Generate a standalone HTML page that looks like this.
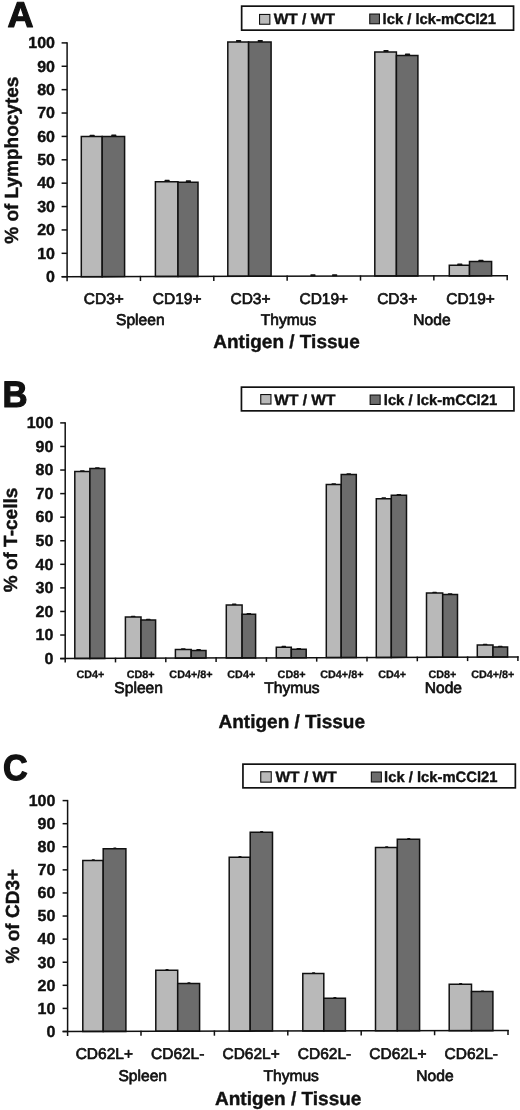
<!DOCTYPE html>
<html><head><meta charset="utf-8"><title>Figure</title>
<style>
html,body{margin:0;padding:0;background:#fff;}
body{width:520px;height:1110px;overflow:hidden;}
svg{display:block;}
text{font-family:"Liberation Sans", Arial, Helvetica, sans-serif;fill:#111;text-rendering:geometricPrecision;}
</style></head><body>
<svg width="520" height="1110" viewBox="0 0 520 1110">
<rect x="0" y="0" width="520" height="1110" fill="#fff"/>
<text transform="translate(7.45,26.55)" font-size="36" font-weight="bold" text-anchor="start" stroke="#111" stroke-width="1.2" stroke-linejoin="round">A</text>
<rect x="241.65" y="6.15" width="271.90" height="24.00" fill="#fff" stroke="#111" stroke-width="1.7"/>
<rect x="259.55" y="14.45" width="10.30" height="9.80" fill="#b9b9b9" stroke="#111" stroke-width="1.1"/>
<rect x="369.75" y="14.05" width="9.70" height="9.70" fill="#6c6c6c" stroke="#111" stroke-width="1.1"/>
<text transform="translate(273.65,24.40) scale(1.035,1.0)" font-size="15" font-weight="bold" text-anchor="start" stroke="#111" stroke-width="0.4" stroke-linejoin="round">WT / WT</text>
<text transform="translate(382.60,24.40) scale(0.985,1.0)" font-size="15" font-weight="bold" text-anchor="start" stroke="#111" stroke-width="0.4" stroke-linejoin="round">lck / lck-mCCl21</text>
<polygon points="81.30,136.60 102.20,136.60 102.20,276.63 81.30,276.67" fill="#b9b9b9" stroke="#111" stroke-width="1.5" stroke-linejoin="miter"/>
<polygon points="102.20,136.50 124.60,136.50 124.60,276.58 102.20,276.63" fill="#6c6c6c" stroke="#111" stroke-width="1.5" stroke-linejoin="miter"/>
<rect x="89.55" y="134.70" width="5.2" height="1.9" rx="0.6" fill="#111"/>
<rect x="111.20" y="134.60" width="5.2" height="1.9" rx="0.6" fill="#111"/>
<polygon points="155.40,181.70 178.00,181.70 178.00,276.47 155.40,276.52" fill="#b9b9b9" stroke="#111" stroke-width="1.5" stroke-linejoin="miter"/>
<polygon points="178.00,182.20 198.00,182.20 198.00,276.43 178.00,276.47" fill="#6c6c6c" stroke="#111" stroke-width="1.5" stroke-linejoin="miter"/>
<rect x="164.50" y="179.80" width="5.2" height="1.9" rx="0.6" fill="#111"/>
<rect x="185.80" y="180.30" width="5.2" height="1.9" rx="0.6" fill="#111"/>
<polygon points="227.80,41.90 248.60,41.90 248.60,276.33 227.80,276.37" fill="#b9b9b9" stroke="#111" stroke-width="1.5" stroke-linejoin="miter"/>
<polygon points="248.60,41.90 271.10,41.90 271.10,276.28 248.60,276.33" fill="#6c6c6c" stroke="#111" stroke-width="1.5" stroke-linejoin="miter"/>
<rect x="236.00" y="40.00" width="5.2" height="1.9" rx="0.6" fill="#111"/>
<rect x="257.65" y="40.00" width="5.2" height="1.9" rx="0.6" fill="#111"/>
<rect x="310.35" y="274.30" width="5.2" height="1.9" rx="0.6" fill="#111"/>
<rect x="332.05" y="274.25" width="5.2" height="1.9" rx="0.6" fill="#111"/>
<polygon points="374.80,51.90 396.40,51.90 396.40,276.03 374.80,276.07" fill="#b9b9b9" stroke="#111" stroke-width="1.5" stroke-linejoin="miter"/>
<polygon points="396.40,55.40 417.90,55.40 417.90,275.98 396.40,276.03" fill="#6c6c6c" stroke="#111" stroke-width="1.5" stroke-linejoin="miter"/>
<rect x="383.40" y="50.00" width="5.2" height="1.9" rx="0.6" fill="#111"/>
<rect x="404.95" y="53.50" width="5.2" height="1.9" rx="0.6" fill="#111"/>
<polygon points="449.30,265.30 469.50,265.30 469.50,275.88 449.30,275.92" fill="#b9b9b9" stroke="#111" stroke-width="1.5" stroke-linejoin="miter"/>
<polygon points="469.50,261.60 491.60,261.60 491.60,275.83 469.50,275.88" fill="#6c6c6c" stroke="#111" stroke-width="1.5" stroke-linejoin="miter"/>
<rect x="457.20" y="263.40" width="5.2" height="1.9" rx="0.6" fill="#111"/>
<rect x="478.35" y="259.70" width="5.2" height="1.9" rx="0.6" fill="#111"/>
<line x1="67.10" y1="42.20" x2="67.10" y2="281.20" stroke="#111" stroke-width="1.5"/>
<line x1="61.60" y1="276.70" x2="507.90" y2="275.80" stroke="#111" stroke-width="1.5"/>
<line x1="61.60" y1="276.70" x2="67.10" y2="276.70" stroke="#111" stroke-width="1.5"/>
<text transform="translate(55.00,282.00)" font-size="16" font-weight="bold" text-anchor="end" stroke="#111" stroke-width="0.4" stroke-linejoin="round">0</text>
<line x1="61.60" y1="253.32" x2="67.10" y2="253.32" stroke="#111" stroke-width="1.5"/>
<text transform="translate(55.00,258.62)" font-size="16" font-weight="bold" text-anchor="end" stroke="#111" stroke-width="0.4" stroke-linejoin="round">10</text>
<line x1="61.60" y1="229.94" x2="67.10" y2="229.94" stroke="#111" stroke-width="1.5"/>
<text transform="translate(55.00,235.24)" font-size="16" font-weight="bold" text-anchor="end" stroke="#111" stroke-width="0.4" stroke-linejoin="round">20</text>
<line x1="61.60" y1="206.56" x2="67.10" y2="206.56" stroke="#111" stroke-width="1.5"/>
<text transform="translate(55.00,211.86)" font-size="16" font-weight="bold" text-anchor="end" stroke="#111" stroke-width="0.4" stroke-linejoin="round">30</text>
<line x1="61.60" y1="183.18" x2="67.10" y2="183.18" stroke="#111" stroke-width="1.5"/>
<text transform="translate(55.00,188.48)" font-size="16" font-weight="bold" text-anchor="end" stroke="#111" stroke-width="0.4" stroke-linejoin="round">40</text>
<line x1="61.60" y1="159.80" x2="67.10" y2="159.80" stroke="#111" stroke-width="1.5"/>
<text transform="translate(55.00,165.10)" font-size="16" font-weight="bold" text-anchor="end" stroke="#111" stroke-width="0.4" stroke-linejoin="round">50</text>
<line x1="61.60" y1="136.42" x2="67.10" y2="136.42" stroke="#111" stroke-width="1.5"/>
<text transform="translate(55.00,141.72)" font-size="16" font-weight="bold" text-anchor="end" stroke="#111" stroke-width="0.4" stroke-linejoin="round">60</text>
<line x1="61.60" y1="113.04" x2="67.10" y2="113.04" stroke="#111" stroke-width="1.5"/>
<text transform="translate(55.00,118.34)" font-size="16" font-weight="bold" text-anchor="end" stroke="#111" stroke-width="0.4" stroke-linejoin="round">70</text>
<line x1="61.60" y1="89.66" x2="67.10" y2="89.66" stroke="#111" stroke-width="1.5"/>
<text transform="translate(55.00,94.96)" font-size="16" font-weight="bold" text-anchor="end" stroke="#111" stroke-width="0.4" stroke-linejoin="round">80</text>
<line x1="61.60" y1="66.28" x2="67.10" y2="66.28" stroke="#111" stroke-width="1.5"/>
<text transform="translate(55.00,71.58)" font-size="16" font-weight="bold" text-anchor="end" stroke="#111" stroke-width="0.4" stroke-linejoin="round">90</text>
<line x1="61.60" y1="42.90" x2="67.10" y2="42.90" stroke="#111" stroke-width="1.5"/>
<text transform="translate(55.00,48.20)" font-size="16" font-weight="bold" text-anchor="end" stroke="#111" stroke-width="0.4" stroke-linejoin="round">100</text>
<line x1="140.45" y1="275.85" x2="140.45" y2="281.05" stroke="#111" stroke-width="1.5"/>
<line x1="213.80" y1="275.70" x2="213.80" y2="280.90" stroke="#111" stroke-width="1.5"/>
<line x1="287.15" y1="275.55" x2="287.15" y2="280.75" stroke="#111" stroke-width="1.5"/>
<line x1="360.50" y1="275.40" x2="360.50" y2="280.60" stroke="#111" stroke-width="1.5"/>
<line x1="433.85" y1="275.25" x2="433.85" y2="280.45" stroke="#111" stroke-width="1.5"/>
<line x1="507.20" y1="275.10" x2="507.20" y2="280.30" stroke="#111" stroke-width="1.5"/>
<text transform="translate(103.78,303.90)" font-size="15.5" font-weight="normal" text-anchor="middle" stroke="#111" stroke-width="0.7" stroke-linejoin="round">CD3+</text>
<text transform="translate(177.12,303.90)" font-size="15.5" font-weight="normal" text-anchor="middle" stroke="#111" stroke-width="0.7" stroke-linejoin="round">CD19+</text>
<text transform="translate(250.48,303.90)" font-size="15.5" font-weight="normal" text-anchor="middle" stroke="#111" stroke-width="0.7" stroke-linejoin="round">CD3+</text>
<text transform="translate(323.83,303.90)" font-size="15.5" font-weight="normal" text-anchor="middle" stroke="#111" stroke-width="0.7" stroke-linejoin="round">CD19+</text>
<text transform="translate(397.18,303.90)" font-size="15.5" font-weight="normal" text-anchor="middle" stroke="#111" stroke-width="0.7" stroke-linejoin="round">CD3+</text>
<text transform="translate(470.53,303.90)" font-size="15.5" font-weight="normal" text-anchor="middle" stroke="#111" stroke-width="0.7" stroke-linejoin="round">CD19+</text>
<text transform="translate(140.30,324.80)" font-size="15.6" font-weight="normal" text-anchor="middle" stroke="#111" stroke-width="0.7" stroke-linejoin="round">Spleen</text>
<text transform="translate(288.55,324.80)" font-size="15.6" font-weight="normal" text-anchor="middle" stroke="#111" stroke-width="0.7" stroke-linejoin="round">Thymus</text>
<text transform="translate(431.95,324.80)" font-size="15.6" font-weight="normal" text-anchor="middle" stroke="#111" stroke-width="0.7" stroke-linejoin="round">Node</text>
<text transform="translate(286.50,348.00)" font-size="19" font-weight="bold" text-anchor="middle" stroke="#111" stroke-width="0.4" stroke-linejoin="round">Antigen / Tissue</text>
<text transform="translate(18.20,160.20) rotate(-90)" font-size="19" font-weight="bold" text-anchor="middle" stroke="#111" stroke-width="0.4" stroke-linejoin="round">% of Lymphocytes</text>
<text transform="translate(2.60,406.70) scale(0.965,1.025)" font-size="36" font-weight="bold" text-anchor="start" stroke="#111" stroke-width="1.2" stroke-linejoin="round">B</text>
<rect x="241.45" y="387.15" width="272.50" height="23.70" fill="#fff" stroke="#111" stroke-width="1.7"/>
<rect x="260.75" y="394.55" width="10.20" height="9.50" fill="#b9b9b9" stroke="#111" stroke-width="1.1"/>
<rect x="370.15" y="395.05" width="10.00" height="9.40" fill="#6c6c6c" stroke="#111" stroke-width="1.1"/>
<text transform="translate(274.25,404.80) scale(1.035,1.0)" font-size="15" font-weight="bold" text-anchor="start" stroke="#111" stroke-width="0.4" stroke-linejoin="round">WT / WT</text>
<text transform="translate(383.80,404.80) scale(0.985,1.0)" font-size="15" font-weight="bold" text-anchor="start" stroke="#111" stroke-width="0.4" stroke-linejoin="round">lck / lck-mCCl21</text>
<polygon points="74.80,471.50 89.90,471.50 89.90,658.51 74.80,658.56" fill="#b9b9b9" stroke="#111" stroke-width="1.5" stroke-linejoin="miter"/>
<polygon points="89.90,468.50 104.80,468.50 104.80,658.45 89.90,658.51" fill="#6c6c6c" stroke="#111" stroke-width="1.5" stroke-linejoin="miter"/>
<rect x="80.05" y="470.15" width="4.6" height="1.35" rx="0.6" fill="#111"/>
<rect x="95.05" y="467.15" width="4.6" height="1.35" rx="0.6" fill="#111"/>
<polygon points="125.40,617.00 141.00,617.00 141.00,658.32 125.40,658.37" fill="#b9b9b9" stroke="#111" stroke-width="1.5" stroke-linejoin="miter"/>
<polygon points="141.00,620.10 155.60,620.10 155.60,658.26 141.00,658.32" fill="#6c6c6c" stroke="#111" stroke-width="1.5" stroke-linejoin="miter"/>
<rect x="130.90" y="615.65" width="4.6" height="1.35" rx="0.6" fill="#111"/>
<rect x="146.00" y="618.75" width="4.6" height="1.35" rx="0.6" fill="#111"/>
<polygon points="175.40,649.50 191.20,649.50 191.20,658.13 175.40,658.19" fill="#b9b9b9" stroke="#111" stroke-width="1.5" stroke-linejoin="miter"/>
<polygon points="191.20,650.40 206.00,650.40 206.00,658.07 191.20,658.13" fill="#6c6c6c" stroke="#111" stroke-width="1.5" stroke-linejoin="miter"/>
<rect x="181.00" y="648.15" width="4.6" height="1.35" rx="0.6" fill="#111"/>
<rect x="196.30" y="649.05" width="4.6" height="1.35" rx="0.6" fill="#111"/>
<polygon points="226.30,604.90 242.10,604.90 242.10,657.94 226.30,658.00" fill="#b9b9b9" stroke="#111" stroke-width="1.5" stroke-linejoin="miter"/>
<polygon points="242.10,614.30 255.60,614.30 255.60,657.89 242.10,657.94" fill="#6c6c6c" stroke="#111" stroke-width="1.5" stroke-linejoin="miter"/>
<rect x="231.90" y="603.55" width="4.6" height="1.35" rx="0.6" fill="#111"/>
<rect x="246.55" y="612.95" width="4.6" height="1.35" rx="0.6" fill="#111"/>
<polygon points="276.30,647.20 291.30,647.20 291.30,657.75 276.30,657.81" fill="#b9b9b9" stroke="#111" stroke-width="1.5" stroke-linejoin="miter"/>
<polygon points="291.30,649.30 306.20,649.30 306.20,657.69 291.30,657.75" fill="#6c6c6c" stroke="#111" stroke-width="1.5" stroke-linejoin="miter"/>
<rect x="281.50" y="645.85" width="4.6" height="1.35" rx="0.6" fill="#111"/>
<rect x="296.45" y="647.95" width="4.6" height="1.35" rx="0.6" fill="#111"/>
<polygon points="326.30,484.50 341.20,484.50 341.20,657.56 326.30,657.62" fill="#b9b9b9" stroke="#111" stroke-width="1.5" stroke-linejoin="miter"/>
<polygon points="341.20,474.50 356.30,474.50 356.30,657.51 341.20,657.56" fill="#6c6c6c" stroke="#111" stroke-width="1.5" stroke-linejoin="miter"/>
<rect x="331.45" y="483.15" width="4.6" height="1.35" rx="0.6" fill="#111"/>
<rect x="346.45" y="473.15" width="4.6" height="1.35" rx="0.6" fill="#111"/>
<polygon points="376.30,498.70 391.30,498.70 391.30,657.38 376.30,657.43" fill="#b9b9b9" stroke="#111" stroke-width="1.5" stroke-linejoin="miter"/>
<polygon points="391.30,495.30 406.50,495.30 406.50,657.32 391.30,657.38" fill="#6c6c6c" stroke="#111" stroke-width="1.5" stroke-linejoin="miter"/>
<rect x="381.50" y="497.35" width="4.6" height="1.35" rx="0.6" fill="#111"/>
<rect x="396.60" y="493.95" width="4.6" height="1.35" rx="0.6" fill="#111"/>
<polygon points="426.50,593.00 442.70,593.00 442.70,657.18 426.50,657.24" fill="#b9b9b9" stroke="#111" stroke-width="1.5" stroke-linejoin="miter"/>
<polygon points="442.70,594.50 457.50,594.50 457.50,657.13 442.70,657.18" fill="#6c6c6c" stroke="#111" stroke-width="1.5" stroke-linejoin="miter"/>
<rect x="432.30" y="591.65" width="4.6" height="1.35" rx="0.6" fill="#111"/>
<rect x="447.80" y="593.15" width="4.6" height="1.35" rx="0.6" fill="#111"/>
<polygon points="477.30,645.10 493.00,645.10 493.00,656.99 477.30,657.05" fill="#b9b9b9" stroke="#111" stroke-width="1.5" stroke-linejoin="miter"/>
<polygon points="493.00,647.00 507.60,647.00 507.60,656.94 493.00,656.99" fill="#6c6c6c" stroke="#111" stroke-width="1.5" stroke-linejoin="miter"/>
<rect x="482.85" y="643.75" width="4.6" height="1.35" rx="0.6" fill="#111"/>
<rect x="498.00" y="645.65" width="4.6" height="1.35" rx="0.6" fill="#111"/>
<line x1="65.20" y1="422.20" x2="65.20" y2="662.60" stroke="#111" stroke-width="1.5"/>
<line x1="60.20" y1="658.60" x2="518.60" y2="656.90" stroke="#111" stroke-width="1.5"/>
<line x1="60.20" y1="658.60" x2="65.20" y2="658.60" stroke="#111" stroke-width="1.5"/>
<text transform="translate(53.40,663.90)" font-size="16" font-weight="bold" text-anchor="end" stroke="#111" stroke-width="0.4" stroke-linejoin="round">0</text>
<line x1="60.20" y1="635.03" x2="65.20" y2="635.03" stroke="#111" stroke-width="1.5"/>
<text transform="translate(53.40,640.33)" font-size="16" font-weight="bold" text-anchor="end" stroke="#111" stroke-width="0.4" stroke-linejoin="round">10</text>
<line x1="60.20" y1="611.46" x2="65.20" y2="611.46" stroke="#111" stroke-width="1.5"/>
<text transform="translate(53.40,616.76)" font-size="16" font-weight="bold" text-anchor="end" stroke="#111" stroke-width="0.4" stroke-linejoin="round">20</text>
<line x1="60.20" y1="587.89" x2="65.20" y2="587.89" stroke="#111" stroke-width="1.5"/>
<text transform="translate(53.40,593.19)" font-size="16" font-weight="bold" text-anchor="end" stroke="#111" stroke-width="0.4" stroke-linejoin="round">30</text>
<line x1="60.20" y1="564.32" x2="65.20" y2="564.32" stroke="#111" stroke-width="1.5"/>
<text transform="translate(53.40,569.62)" font-size="16" font-weight="bold" text-anchor="end" stroke="#111" stroke-width="0.4" stroke-linejoin="round">40</text>
<line x1="60.20" y1="540.75" x2="65.20" y2="540.75" stroke="#111" stroke-width="1.5"/>
<text transform="translate(53.40,546.05)" font-size="16" font-weight="bold" text-anchor="end" stroke="#111" stroke-width="0.4" stroke-linejoin="round">50</text>
<line x1="60.20" y1="517.18" x2="65.20" y2="517.18" stroke="#111" stroke-width="1.5"/>
<text transform="translate(53.40,522.48)" font-size="16" font-weight="bold" text-anchor="end" stroke="#111" stroke-width="0.4" stroke-linejoin="round">60</text>
<line x1="60.20" y1="493.61" x2="65.20" y2="493.61" stroke="#111" stroke-width="1.5"/>
<text transform="translate(53.40,498.91)" font-size="16" font-weight="bold" text-anchor="end" stroke="#111" stroke-width="0.4" stroke-linejoin="round">70</text>
<line x1="60.20" y1="470.04" x2="65.20" y2="470.04" stroke="#111" stroke-width="1.5"/>
<text transform="translate(53.40,475.34)" font-size="16" font-weight="bold" text-anchor="end" stroke="#111" stroke-width="0.4" stroke-linejoin="round">80</text>
<line x1="60.20" y1="446.47" x2="65.20" y2="446.47" stroke="#111" stroke-width="1.5"/>
<text transform="translate(53.40,451.77)" font-size="16" font-weight="bold" text-anchor="end" stroke="#111" stroke-width="0.4" stroke-linejoin="round">90</text>
<line x1="60.20" y1="422.90" x2="65.20" y2="422.90" stroke="#111" stroke-width="1.5"/>
<text transform="translate(53.40,428.20)" font-size="16" font-weight="bold" text-anchor="end" stroke="#111" stroke-width="0.4" stroke-linejoin="round">100</text>
<line x1="115.50" y1="657.71" x2="115.50" y2="662.41" stroke="#111" stroke-width="1.5"/>
<line x1="165.80" y1="657.52" x2="165.80" y2="662.22" stroke="#111" stroke-width="1.5"/>
<line x1="216.10" y1="657.33" x2="216.10" y2="662.03" stroke="#111" stroke-width="1.5"/>
<line x1="266.40" y1="657.14" x2="266.40" y2="661.84" stroke="#111" stroke-width="1.5"/>
<line x1="316.70" y1="656.96" x2="316.70" y2="661.66" stroke="#111" stroke-width="1.5"/>
<line x1="367.00" y1="656.77" x2="367.00" y2="661.47" stroke="#111" stroke-width="1.5"/>
<line x1="417.30" y1="656.58" x2="417.30" y2="661.28" stroke="#111" stroke-width="1.5"/>
<line x1="467.60" y1="656.39" x2="467.60" y2="661.09" stroke="#111" stroke-width="1.5"/>
<line x1="517.90" y1="656.20" x2="517.90" y2="660.90" stroke="#111" stroke-width="1.5"/>
<text transform="translate(90.35,677.70)" font-size="10.8" font-weight="bold" text-anchor="middle" stroke="#111" stroke-width="0.3" stroke-linejoin="round">CD4+</text>
<text transform="translate(140.65,677.70)" font-size="10.8" font-weight="bold" text-anchor="middle" stroke="#111" stroke-width="0.3" stroke-linejoin="round">CD8+</text>
<text transform="translate(190.95,677.70)" font-size="10.8" font-weight="bold" text-anchor="middle" stroke="#111" stroke-width="0.3" stroke-linejoin="round">CD4+/8+</text>
<text transform="translate(241.25,677.70)" font-size="10.8" font-weight="bold" text-anchor="middle" stroke="#111" stroke-width="0.3" stroke-linejoin="round">CD4+</text>
<text transform="translate(291.55,677.70)" font-size="10.8" font-weight="bold" text-anchor="middle" stroke="#111" stroke-width="0.3" stroke-linejoin="round">CD8+</text>
<text transform="translate(341.85,677.70)" font-size="10.8" font-weight="bold" text-anchor="middle" stroke="#111" stroke-width="0.3" stroke-linejoin="round">CD4+/8+</text>
<text transform="translate(392.15,677.70)" font-size="10.8" font-weight="bold" text-anchor="middle" stroke="#111" stroke-width="0.3" stroke-linejoin="round">CD4+</text>
<text transform="translate(442.45,677.70)" font-size="10.8" font-weight="bold" text-anchor="middle" stroke="#111" stroke-width="0.3" stroke-linejoin="round">CD8+</text>
<text transform="translate(492.75,677.70)" font-size="10.8" font-weight="bold" text-anchor="middle" stroke="#111" stroke-width="0.3" stroke-linejoin="round">CD4+/8+</text>
<text transform="translate(138.65,693.20)" font-size="15.6" font-weight="normal" text-anchor="middle" stroke="#111" stroke-width="0.7" stroke-linejoin="round">Spleen</text>
<text transform="translate(291.95,693.20)" font-size="15.6" font-weight="normal" text-anchor="middle" stroke="#111" stroke-width="0.7" stroke-linejoin="round">Thymus</text>
<text transform="translate(443.35,693.20)" font-size="15.6" font-weight="normal" text-anchor="middle" stroke="#111" stroke-width="0.7" stroke-linejoin="round">Node</text>
<text transform="translate(291.75,727.90)" font-size="19" font-weight="bold" text-anchor="middle" stroke="#111" stroke-width="0.4" stroke-linejoin="round">Antigen / Tissue</text>
<text transform="translate(16.50,540.00) rotate(-90)" font-size="19" font-weight="bold" text-anchor="middle" stroke="#111" stroke-width="0.4" stroke-linejoin="round">% of T-cells</text>
<text transform="translate(3.10,779.90) scale(0.95,1.0)" font-size="36" font-weight="bold" text-anchor="start" stroke="#111" stroke-width="1.2" stroke-linejoin="round">C</text>
<rect x="242.95" y="764.15" width="272.40" height="23.70" fill="#fff" stroke="#111" stroke-width="1.7"/>
<rect x="260.75" y="771.75" width="10.50" height="10.40" fill="#b9b9b9" stroke="#111" stroke-width="1.1"/>
<rect x="371.35" y="772.05" width="10.00" height="9.90" fill="#6c6c6c" stroke="#111" stroke-width="1.1"/>
<text transform="translate(275.45,782.10) scale(1.035,1.0)" font-size="15" font-weight="bold" text-anchor="start" stroke="#111" stroke-width="0.4" stroke-linejoin="round">WT / WT</text>
<text transform="translate(384.10,782.10) scale(0.985,1.0)" font-size="15" font-weight="bold" text-anchor="start" stroke="#111" stroke-width="0.4" stroke-linejoin="round">lck / lck-mCCl21</text>
<polygon points="82.80,860.50 103.20,860.50 103.20,1031.43 82.80,1031.47" fill="#b9b9b9" stroke="#111" stroke-width="1.5" stroke-linejoin="miter"/>
<polygon points="103.20,848.80 125.90,848.80 125.90,1031.38 103.20,1031.43" fill="#6c6c6c" stroke="#111" stroke-width="1.5" stroke-linejoin="miter"/>
<rect x="91.70" y="859.30" width="3.2" height="1.2" rx="0.6" fill="#111"/>
<rect x="113.25" y="847.60" width="3.2" height="1.2" rx="0.6" fill="#111"/>
<polygon points="155.80,970.30 177.70,970.30 177.70,1031.28 155.80,1031.32" fill="#b9b9b9" stroke="#111" stroke-width="1.5" stroke-linejoin="miter"/>
<polygon points="177.70,983.50 199.60,983.50 199.60,1031.23 177.70,1031.28" fill="#6c6c6c" stroke="#111" stroke-width="1.5" stroke-linejoin="miter"/>
<rect x="165.45" y="969.10" width="3.2" height="1.2" rx="0.6" fill="#111"/>
<rect x="187.35" y="982.30" width="3.2" height="1.2" rx="0.6" fill="#111"/>
<polygon points="229.20,857.30 250.20,857.30 250.20,1031.13 229.20,1031.17" fill="#b9b9b9" stroke="#111" stroke-width="1.5" stroke-linejoin="miter"/>
<polygon points="250.20,832.20 272.50,832.20 272.50,1031.08 250.20,1031.13" fill="#6c6c6c" stroke="#111" stroke-width="1.5" stroke-linejoin="miter"/>
<rect x="238.40" y="856.10" width="3.2" height="1.2" rx="0.6" fill="#111"/>
<rect x="260.05" y="831.00" width="3.2" height="1.2" rx="0.6" fill="#111"/>
<polygon points="302.80,973.40 323.80,973.40 323.80,1030.98 302.80,1031.02" fill="#b9b9b9" stroke="#111" stroke-width="1.5" stroke-linejoin="miter"/>
<polygon points="323.80,998.20 345.40,998.20 345.40,1030.93 323.80,1030.98" fill="#6c6c6c" stroke="#111" stroke-width="1.5" stroke-linejoin="miter"/>
<rect x="312.00" y="972.20" width="3.2" height="1.2" rx="0.6" fill="#111"/>
<rect x="333.30" y="997.00" width="3.2" height="1.2" rx="0.6" fill="#111"/>
<polygon points="375.50,847.40 397.30,847.40 397.30,1030.83 375.50,1030.87" fill="#b9b9b9" stroke="#111" stroke-width="1.5" stroke-linejoin="miter"/>
<polygon points="397.30,839.20 419.60,839.20 419.60,1030.78 397.30,1030.83" fill="#6c6c6c" stroke="#111" stroke-width="1.5" stroke-linejoin="miter"/>
<rect x="385.10" y="846.20" width="3.2" height="1.2" rx="0.6" fill="#111"/>
<rect x="407.15" y="838.00" width="3.2" height="1.2" rx="0.6" fill="#111"/>
<polygon points="449.20,984.30 471.50,984.30 471.50,1030.67 449.20,1030.72" fill="#b9b9b9" stroke="#111" stroke-width="1.5" stroke-linejoin="miter"/>
<polygon points="471.50,991.60 492.90,991.60 492.90,1030.63 471.50,1030.67" fill="#6c6c6c" stroke="#111" stroke-width="1.5" stroke-linejoin="miter"/>
<rect x="459.05" y="983.10" width="3.2" height="1.2" rx="0.6" fill="#111"/>
<rect x="480.90" y="990.40" width="3.2" height="1.2" rx="0.6" fill="#111"/>
<line x1="67.60" y1="799.90" x2="67.60" y2="1036.00" stroke="#111" stroke-width="1.5"/>
<line x1="62.60" y1="1031.50" x2="508.70" y2="1030.60" stroke="#111" stroke-width="1.5"/>
<line x1="62.60" y1="1031.50" x2="67.60" y2="1031.50" stroke="#111" stroke-width="1.5"/>
<text transform="translate(55.40,1036.80)" font-size="16" font-weight="bold" text-anchor="end" stroke="#111" stroke-width="0.4" stroke-linejoin="round">0</text>
<line x1="62.60" y1="1008.41" x2="67.60" y2="1008.41" stroke="#111" stroke-width="1.5"/>
<text transform="translate(55.40,1013.71)" font-size="16" font-weight="bold" text-anchor="end" stroke="#111" stroke-width="0.4" stroke-linejoin="round">10</text>
<line x1="62.60" y1="985.32" x2="67.60" y2="985.32" stroke="#111" stroke-width="1.5"/>
<text transform="translate(55.40,990.62)" font-size="16" font-weight="bold" text-anchor="end" stroke="#111" stroke-width="0.4" stroke-linejoin="round">20</text>
<line x1="62.60" y1="962.23" x2="67.60" y2="962.23" stroke="#111" stroke-width="1.5"/>
<text transform="translate(55.40,967.53)" font-size="16" font-weight="bold" text-anchor="end" stroke="#111" stroke-width="0.4" stroke-linejoin="round">30</text>
<line x1="62.60" y1="939.14" x2="67.60" y2="939.14" stroke="#111" stroke-width="1.5"/>
<text transform="translate(55.40,944.44)" font-size="16" font-weight="bold" text-anchor="end" stroke="#111" stroke-width="0.4" stroke-linejoin="round">40</text>
<line x1="62.60" y1="916.05" x2="67.60" y2="916.05" stroke="#111" stroke-width="1.5"/>
<text transform="translate(55.40,921.35)" font-size="16" font-weight="bold" text-anchor="end" stroke="#111" stroke-width="0.4" stroke-linejoin="round">50</text>
<line x1="62.60" y1="892.96" x2="67.60" y2="892.96" stroke="#111" stroke-width="1.5"/>
<text transform="translate(55.40,898.26)" font-size="16" font-weight="bold" text-anchor="end" stroke="#111" stroke-width="0.4" stroke-linejoin="round">60</text>
<line x1="62.60" y1="869.87" x2="67.60" y2="869.87" stroke="#111" stroke-width="1.5"/>
<text transform="translate(55.40,875.17)" font-size="16" font-weight="bold" text-anchor="end" stroke="#111" stroke-width="0.4" stroke-linejoin="round">70</text>
<line x1="62.60" y1="846.78" x2="67.60" y2="846.78" stroke="#111" stroke-width="1.5"/>
<text transform="translate(55.40,852.08)" font-size="16" font-weight="bold" text-anchor="end" stroke="#111" stroke-width="0.4" stroke-linejoin="round">80</text>
<line x1="62.60" y1="823.69" x2="67.60" y2="823.69" stroke="#111" stroke-width="1.5"/>
<text transform="translate(55.40,828.99)" font-size="16" font-weight="bold" text-anchor="end" stroke="#111" stroke-width="0.4" stroke-linejoin="round">90</text>
<line x1="62.60" y1="800.60" x2="67.60" y2="800.60" stroke="#111" stroke-width="1.5"/>
<text transform="translate(55.40,805.90)" font-size="16" font-weight="bold" text-anchor="end" stroke="#111" stroke-width="0.4" stroke-linejoin="round">100</text>
<line x1="141.00" y1="1030.65" x2="141.00" y2="1035.85" stroke="#111" stroke-width="1.5"/>
<line x1="214.40" y1="1030.50" x2="214.40" y2="1035.70" stroke="#111" stroke-width="1.5"/>
<line x1="287.80" y1="1030.35" x2="287.80" y2="1035.55" stroke="#111" stroke-width="1.5"/>
<line x1="361.20" y1="1030.20" x2="361.20" y2="1035.40" stroke="#111" stroke-width="1.5"/>
<line x1="434.60" y1="1030.05" x2="434.60" y2="1035.25" stroke="#111" stroke-width="1.5"/>
<line x1="508.00" y1="1029.90" x2="508.00" y2="1035.10" stroke="#111" stroke-width="1.5"/>
<text transform="translate(104.30,1058.80)" font-size="15.5" font-weight="normal" text-anchor="middle" stroke="#111" stroke-width="0.7" stroke-linejoin="round">CD62L+</text>
<text transform="translate(177.70,1058.80)" font-size="15.5" font-weight="normal" text-anchor="middle" stroke="#111" stroke-width="0.7" stroke-linejoin="round">CD62L-</text>
<text transform="translate(251.10,1058.80)" font-size="15.5" font-weight="normal" text-anchor="middle" stroke="#111" stroke-width="0.7" stroke-linejoin="round">CD62L+</text>
<text transform="translate(324.50,1058.80)" font-size="15.5" font-weight="normal" text-anchor="middle" stroke="#111" stroke-width="0.7" stroke-linejoin="round">CD62L-</text>
<text transform="translate(397.90,1058.80)" font-size="15.5" font-weight="normal" text-anchor="middle" stroke="#111" stroke-width="0.7" stroke-linejoin="round">CD62L+</text>
<text transform="translate(471.30,1058.80)" font-size="15.5" font-weight="normal" text-anchor="middle" stroke="#111" stroke-width="0.7" stroke-linejoin="round">CD62L-</text>
<text transform="translate(142.70,1080.70)" font-size="15.6" font-weight="normal" text-anchor="middle" stroke="#111" stroke-width="0.7" stroke-linejoin="round">Spleen</text>
<text transform="translate(291.20,1080.70)" font-size="15.6" font-weight="normal" text-anchor="middle" stroke="#111" stroke-width="0.7" stroke-linejoin="round">Thymus</text>
<text transform="translate(435.00,1080.70)" font-size="15.6" font-weight="normal" text-anchor="middle" stroke="#111" stroke-width="0.7" stroke-linejoin="round">Node</text>
<text transform="translate(288.20,1104.60)" font-size="19" font-weight="bold" text-anchor="middle" stroke="#111" stroke-width="0.4" stroke-linejoin="round">Antigen / Tissue</text>
<text transform="translate(18.80,916.20) rotate(-90)" font-size="19" font-weight="bold" text-anchor="middle" stroke="#111" stroke-width="0.4" stroke-linejoin="round">% of CD3+</text>
</svg>
</body></html>
